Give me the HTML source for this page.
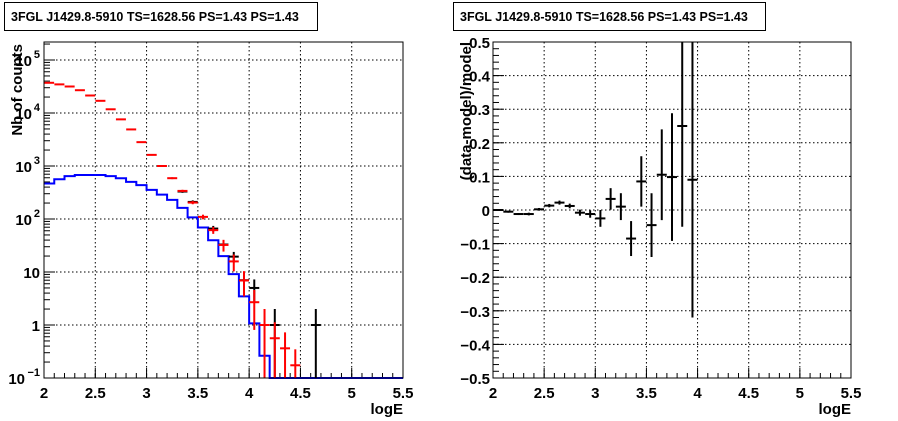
<!DOCTYPE html>
<html><head><meta charset="utf-8"><style>
html,body{margin:0;padding:0;background:#fff;}
svg{display:block;font-family:"Liberation Sans",Arial,sans-serif;font-weight:bold;}
</style></head><body>
<svg id="c" width="898" height="421" viewBox="0 0 898 421">
<g>
<rect x="4.5" y="2.5" width="313" height="28" fill="#fff" stroke="#000"/>
<text x="11" y="21" font-size="12.5">3FGL J1429.8-5910 TS=1628.56 PS=1.43 PS=1.43</text>
</g>
<g>
<rect x="453.5" y="2.5" width="312" height="28" fill="#fff" stroke="#000"/>
<text x="460" y="21" font-size="12.5">3FGL J1429.8-5910 TS=1628.56 PS=1.43 PS=1.43</text>
</g>
<g id="L"></g>
<g id="R"></g>
</svg>
<script>
const binCenters=[2.05,2.15,2.25,2.35,2.45,2.55,2.65,2.75,2.85,2.95,3.05,3.15,3.25,3.35,3.45,3.55,3.65,3.75,3.85,3.95,4.05,4.15,4.25,4.35,4.45];
const modelLog10=[4.57,4.54,4.50,4.43,4.33,4.23,4.07,3.88,3.69,3.45,3.21,3.0,2.77,2.53,2.31,2.04,1.79,1.51,1.20,0.84,0.43,0.0,-0.25,-0.44,-0.76];
const modelErrFrac=[0.01,0.01,0.01,0.01,0.01,0.01,0.01,0.01,0.02,0.02,0.03,0.03,0.04,0.05,0.07,0.1,0.15,0.25,0.35,0.5,0.7,1.0,1.0,1.0,1.0];
const dataCenters=[3.35,3.45,3.65,3.75,3.85,3.95,4.05,4.25,4.65];
const dataCounts=[330,210,66,33,19.5,7,5,1,1];
const sourceEdges=[2.0,2.1,2.2,2.3,2.4,2.5,2.6,2.7,2.8,2.9,3.0,3.1,3.2,3.3,3.4,3.5,3.6,3.7,3.8,3.9,4.0,4.1,4.2,5.5];
const sourceLog10=[2.67,2.75,2.81,2.83,2.83,2.83,2.81,2.77,2.70,2.64,2.55,2.46,2.36,2.21,2.03,1.84,1.60,1.30,0.96,0.54,0.03,-0.58,-1.2];
const resCenters=[2.05,2.15,2.25,2.35,2.45,2.55,2.65,2.75,2.85,2.95,3.05,3.15,3.25,3.35,3.45,3.55,3.65,3.75,3.85,3.95];
const resValues=[0,-0.005,-0.012,-0.012,0.002,0.013,0.022,0.012,-0.008,-0.012,-0.025,0.033,0.01,-0.085,0.085,-0.045,0.105,0.098,0.25,0.09];
const resErrors=[0.003,0.003,0.003,0.004,0.004,0.005,0.006,0.007,0.009,0.011,0.025,0.032,0.04,0.052,0.075,0.095,0.135,0.19,0.3,0.41];
const xTicks=["2","2.5","3","3.5","4","4.5","5","5.5"];
const logTickBase=["10","1","10","10","10","10","10"];
const logTickExp=["\u22121","","","2","3","4","5"];
const resTicks=["\u22120.5","\u22120.4","\u22120.3","\u22120.2","\u22120.1","0","0.1","0.2","0.3","0.4","0.5"];
const NS="http://www.w3.org/2000/svg";
function mk(p,t,a){const e=document.createElementNS(NS,t);for(const k in a)e.setAttribute(k,a[k]);p.appendChild(e);return e;}
function axesX(g,x0,x1,y0,y1,sx){
  for(let i=0;i<xTicks.length;i++){const v=2+0.5*i,x=sx(v);
    if(i>0&&i<xTicks.length-1){const l=mk(g,'line',{x1:x,x2:x,y1:y0,y2:y1,stroke:'#000','stroke-dasharray':'1.5,2.5'});
    
    }
    mk(g,'line',{x1:x,x2:x,y1:y1,y2:y1-10,stroke:'#000'});
    const t=mk(g,'text',{x:x,y:y1+20,'font-size':15,'text-anchor':'middle'});t.textContent=xTicks[i];
    
    }
  for(let v=2.1;v<5.5;v+=0.1){mk(g,'line',{x1:sx(v),x2:sx(v),y1:y1,y2:y1-5,stroke:'#000'});}
  const t=mk(g,'text',{x:x1,y:y1+36,'font-size':15,'text-anchor':'end'});t.textContent='logE';
  
  
}
(function(){
const g=document.getElementById('L');
const x0=44,x1=403,y0=42,y1=378;
const sx=v=>x0+(v-2)*(x1-x0)/3.5;
const sy=l=>y1-(l+1)*53;
axesX(g,x0,x1,y0,y1,sx);
for(let i=0;i<logTickBase.length;i++){const y=sy(i-1);
  if(i>0){const l=mk(g,'line',{x1:x0,x2:x1,y1:y,y2:y,stroke:'#000','stroke-dasharray':'1.5,2.5'});
  
  }
  mk(g,'line',{x1:x0,x2:x0+11,y1:y,y2:y,stroke:'#000'});
  for(let m=2;m<10;m++){const yy=sy(i-1+Math.log10(m));if(yy>y0)mk(g,'line',{x1:x0,x2:x0+6,y1:yy,y2:yy,stroke:'#000'});}
  const ex=logTickExp[i];
  const t=mk(g,'text',{x:x0-4-(ex?(ex.length>1?15:8):0),y:y+6,'font-size':15,'text-anchor':'end'});t.textContent=logTickBase[i];
  
  
  if(ex){const s=mk(g,'text',{x:x0-4,y:y-2,'font-size':11,'text-anchor':'end'});s.textContent=ex;
  
  }}
const yt=mk(g,'text',{x:0,y:0,'font-size':15,'text-anchor':'end',transform:'translate(22,44) rotate(-90)'});yt.textContent='Nb of counts';


let d='';for(let i=0;i<sourceLog10.length;i++){const y=Math.min(y1,sy(sourceLog10[i]));d+=(i?'L':'M')+sx(sourceEdges[i])+','+y+'L'+sx(sourceEdges[i+1])+','+y;}
const p=mk(g,'path',{d:d,fill:'none',stroke:'#0000ff','stroke-width':2});


for(let i=0;i<dataCenters.length;i++){const c=dataCounts[i],x=sx(dataCenters[i]),e=Math.sqrt(c);
  const gg=mk(g,'g',{stroke:'#000','stroke-width':2});
  
  
  const lo=c-e>0?Math.min(y1,sy(Math.log10(c-e))):y1;
  mk(gg,'line',{x1:x,x2:x,y1:sy(Math.log10(c+e)),y2:lo});
  mk(gg,'line',{x1:x-5,x2:x+5,y1:sy(Math.log10(c)),y2:sy(Math.log10(c))});}
for(let i=0;i<binCenters.length;i++){const l=modelLog10[i],v=Math.pow(10,l),e=v*modelErrFrac[i],x=sx(binCenters[i]);
  const gg=mk(g,'g',{stroke:'#ff0000','stroke-width':2});
  
  
  const lo=v-e>0?Math.min(y1,sy(Math.log10(v-e))):y1;
  mk(gg,'line',{x1:x,x2:x,y1:sy(Math.log10(v+e)),y2:lo});
  mk(gg,'line',{x1:x-5,x2:x+5,y1:sy(l),y2:sy(l)});}
const f=mk(g,'rect',{x:x0,y:y0,width:x1-x0,height:y1-y0,fill:'none',stroke:'#000'});


})();
(function(){
const g=document.getElementById('R');
const x0=493,x1=851,y0=42,y1=378;
const sx=v=>x0+(v-2)*(x1-x0)/3.5;
const sy=v=>y1-(v+0.5)*(y1-y0);
axesX(g,x0,x1,y0,y1,sx);
for(let i=0;i<resTicks.length;i++){const v=-0.5+0.1*i,y=sy(v);
  if(i>0&&i<resTicks.length-1){const l=mk(g,'line',{x1:x0,x2:x1,y1:y,y2:y,stroke:'#000','stroke-dasharray':'1.5,2.5'});
  
  }
  mk(g,'line',{x1:x0,x2:x0+11,y1:y,y2:y,stroke:'#000'});
  const t=mk(g,'text',{x:x0-3,y:y+6,'font-size':15,'text-anchor':'end'});t.textContent=resTicks[i];
  
  }
for(let v=-0.48;v<0.5;v+=0.02)mk(g,'line',{x1:x0,x2:x0+6,y1:sy(v),y2:sy(v),stroke:'#000'});
const yt=mk(g,'text',{x:0,y:0,'font-size':15,'text-anchor':'end',transform:'translate(471,42) rotate(-90)'});yt.textContent='(data-model)/model';


const cl=v=>Math.max(y0,Math.min(y1,sy(v)));
for(let i=0;i<resCenters.length;i++){const x=sx(resCenters[i]),v=resValues[i],e=resErrors[i];
  const gg=mk(g,'g',{stroke:'#000','stroke-width':2});
  
  
  mk(gg,'line',{x1:x,x2:x,y1:cl(v+e),y2:cl(v-e)});
  mk(gg,'line',{x1:x-5,x2:x+5,y1:sy(v),y2:sy(v)});}
const f=mk(g,'rect',{x:x0,y:y0,width:x1-x0,height:y1-y0,fill:'none',stroke:'#000'});


})();
</script>
</body></html>
